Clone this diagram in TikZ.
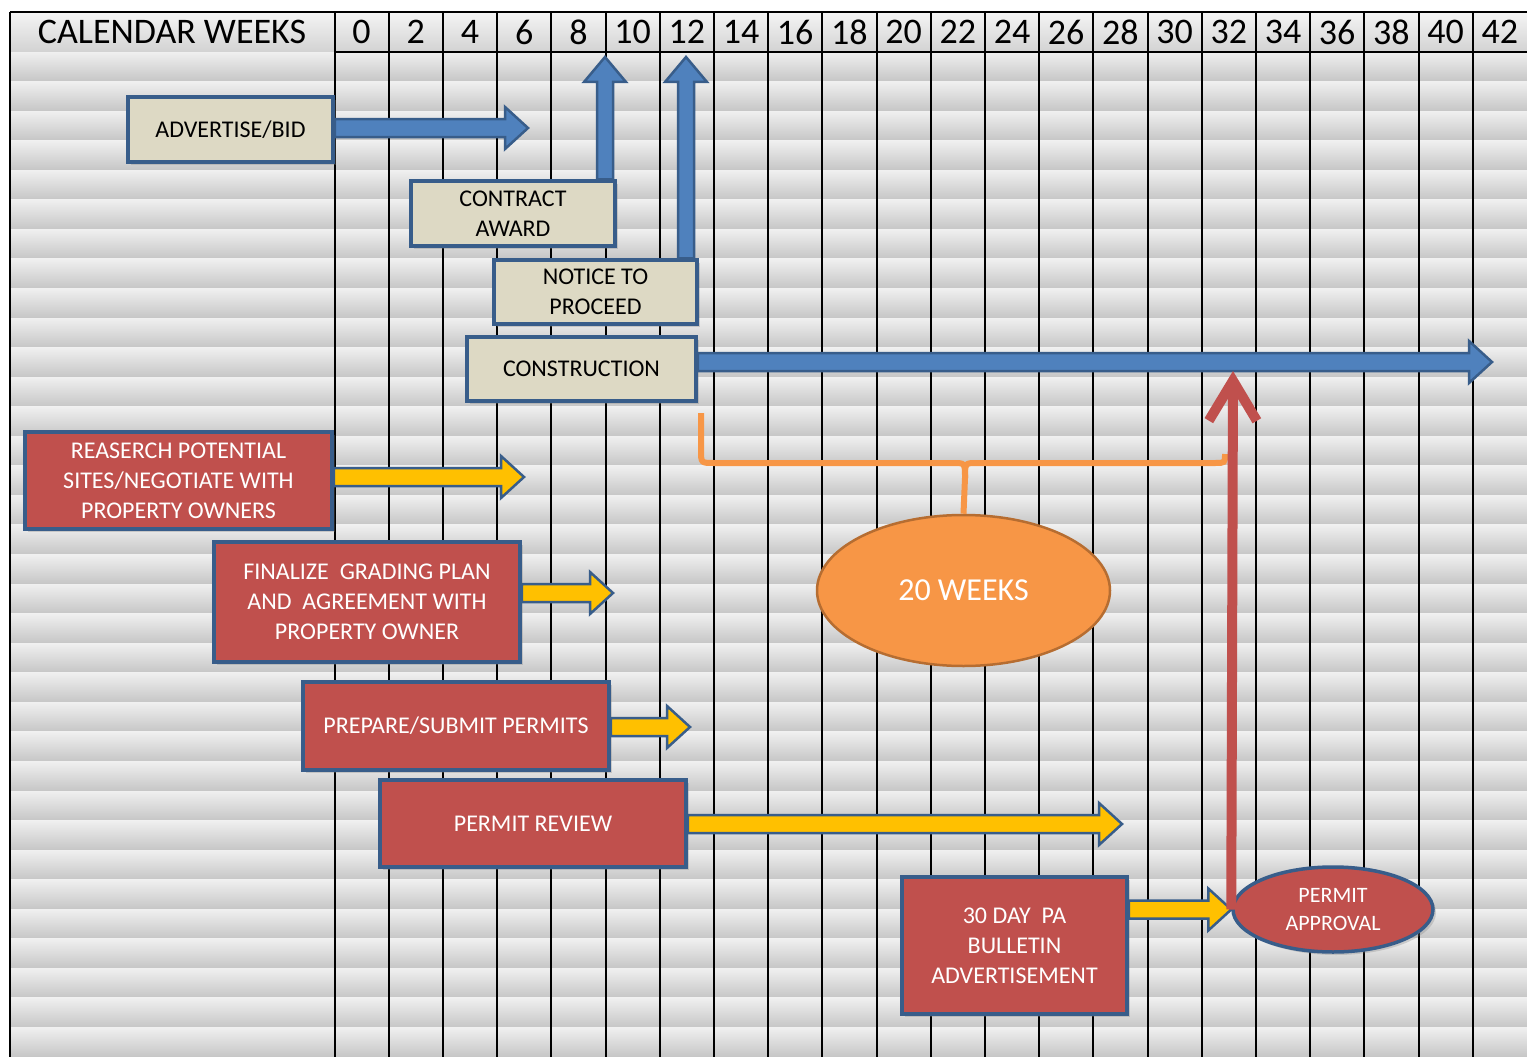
\documentclass[tikz,border=0pt]{standalone}
\usepackage{fontspec}
\setmainfont{Carlito}
\usepackage{xcolor}
\usetikzlibrary{calc,shapes.geometric,arrows.meta,shadows}
\definecolor{tanfill}{HTML}{DDD9C4}
\definecolor{boxblue}{HTML}{385D8A}
\definecolor{arrblue}{HTML}{4F81BD}
\definecolor{taskred}{HTML}{C0504D}
\definecolor{arryellow}{HTML}{FFC000}
\definecolor{weekorange}{HTML}{F79646}
\definecolor{orangeline}{HTML}{B66D31}

\newcommand{\blockh}[3]{\filldraw[#1] let \p1=(#2), \p2=(#3) in
  (\x1,\y2+9pt) -- (\x2-23pt,\y2+9pt) -- (\x2-23pt,\y2+21pt) -- (\x2,\y2)
  -- (\x2-23pt,\y2-21pt) -- (\x2-23pt,\y2-9pt) -- (\x1,\y2-9pt) -- cycle;}
\newcommand{\blockv}[3]{\filldraw[#1] let \p1=(#2), \p2=(#3) in
  (\x2-8pt,\y1) -- (\x2-8pt,\y2-25pt) -- (\x2-21pt,\y2-25pt) -- (\x2,\y2)
  -- (\x2+21pt,\y2-25pt) -- (\x2+8pt,\y2-25pt) -- (\x2+8pt,\y1) -- cycle;}

\begin{document}
\begin{tikzpicture}[x=1pt,y=-1pt]
\tikzstyle{tanbox}=[rectangle, draw=boxblue, line width=3.5pt, fill=tanfill,
                    text=black, inner sep=0pt, align=center,
                    font=\fontsize{24}{30}\selectfont,
                    drop shadow={shadow xshift=3pt,shadow yshift=-3pt,opacity=.3}]
\tikzstyle{redbox}=[tanbox, fill=taskred, text=white]
\tikzstyle{bluearr}=[fill=arrblue, draw=boxblue, line width=2.5pt]
\tikzstyle{yellowarr}=[fill=arryellow, draw=boxblue, line width=2.5pt]
\tikzstyle{weekhead}=[font=\fontsize{36}{40}\selectfont, inner sep=0pt]
\useasboundingbox (0,0) rectangle (1527,1057);
\fill[white] (0,0) rectangle (1527,1057);
\foreach \i in {0,...,33}{\shade[top color=gray!12, middle color=white, bottom color=gray!45]
  (10,52+29.56*\i) rectangle (1527,81.6+29.56*\i);}
\shade[top color=gray!8, bottom color=gray!35] (10,12) rectangle (1527,52);
\draw[line width=2pt] (10,12) -- (1527,12);
\draw[line width=2pt] (10,12) -- (10,1057);
\draw[line width=1.6pt] (334.5,52) -- (1527,52);
\foreach \k in {0,...,21}{\draw[line width=2pt] (334.5+54.2*\k,12) -- (334.5+54.2*\k,1057);}
\node[weekhead] (cal) at (172,32) {CALENDAR WEEKS};
\foreach \k in {0,...,21}{\pgfmathtruncatemacro{\wk}{2*\k}
  \node[weekhead] (wk\k) at (361.6+54.2*\k,32) {\wk};}

\node[tanbox, minimum width=205pt, minimum height=65pt] (adv) at (230.5,129.5){ADVERTISE/BID};
\node[tanbox, minimum width=204pt, minimum height=65pt] (award) at (513,213.5){CONTRACT\\AWARD};
\node[tanbox, minimum width=203pt, minimum height=64pt] (notice) at (595.5,292){NOTICE TO\\PROCEED};
\node[tanbox, minimum width=229pt, minimum height=64pt] (constr) at (581.5,369){CONSTRUCTION};
\node[redbox, minimum width=307pt, minimum height=97pt] (research) at (178.5,480.5){REASERCH POTENTIAL\\SITES/NEGOTIATE WITH\\PROPERTY OWNERS};
\node[redbox, minimum width=306pt, minimum height=120pt] (grading) at (367,602){FINALIZE\ \ GRADING PLAN\\AND\ \ AGREEMENT WITH\\PROPERTY OWNER};
\node[redbox, minimum width=306pt, minimum height=88pt] (prepare) at (456,726){PREPARE/SUBMIT PERMITS};
\node[redbox, minimum width=306pt, minimum height=87pt] (review) at (533,823.5){PERMIT REVIEW};
\node[redbox, minimum width=225pt, minimum height=137pt] (bulletin) at (1014.5,945.5){30 DAY\ \ PA\\BULLETIN\\ADVERTISEMENT};
\node[redbox, ellipse, minimum width=200pt, minimum height=85pt,
      font=\fontsize{22}{28}\selectfont] (approval) at (1333,909.5){PERMIT\\APPROVAL};
\node[ellipse, fill=weekorange, draw=orangeline, line width=2.5pt, inner sep=0pt,
      minimum width=293pt, minimum height=151pt, text=white,
      font=\fontsize{32}{36}\selectfont] (twenty) at (963.5,590.5){20 WEEKS};

\coordinate (advTip) at (528,128);
\coordinate (awardTip) at (605,57);
\coordinate (noticeTip) at (686,57);
\coordinate (constrTip) at (1492,362);
\coordinate (researchTip) at (524,477);
\coordinate (gradingTip) at (613,593);
\coordinate (prepareTip) at (690,727);
\coordinate (reviewTip) at (1122,824);
\coordinate (approvalTip) at (1233,371);
\coordinate (braceL) at (701,413);
\coordinate (braceR) at (1225,454);

\blockh{bluearr}{adv.east}{advTip}
\blockv{bluearr}{award.north}{awardTip}
\blockv{bluearr}{notice.north}{noticeTip}
\blockh{bluearr}{constr.east}{constrTip}
\blockh{yellowarr}{research.east}{researchTip}
\blockh{yellowarr}{grading.east}{gradingTip}
\blockh{yellowarr}{prepare.east}{prepareTip}
\blockh{yellowarr}{review.east}{reviewTip}
\blockh{yellowarr}{bulletin.east}{approval.west}

\draw[weekorange, line width=6pt] (braceL) -- (701,450) .. controls (701,463) .. (714,463)
  -- (953,463) .. controls (965,463) .. (965,478) -- (twenty.north);
\draw[weekorange, line width=6pt] (braceR) .. controls (1225,463) .. (1215,463)
  -- (977,463) .. controls (965,463) .. (965,478);
\draw[taskred, line width=10pt, -{Straight Barb[length=40pt,width=48pt]}] (approval.west) -- (approvalTip);
\end{tikzpicture}
\end{document}
